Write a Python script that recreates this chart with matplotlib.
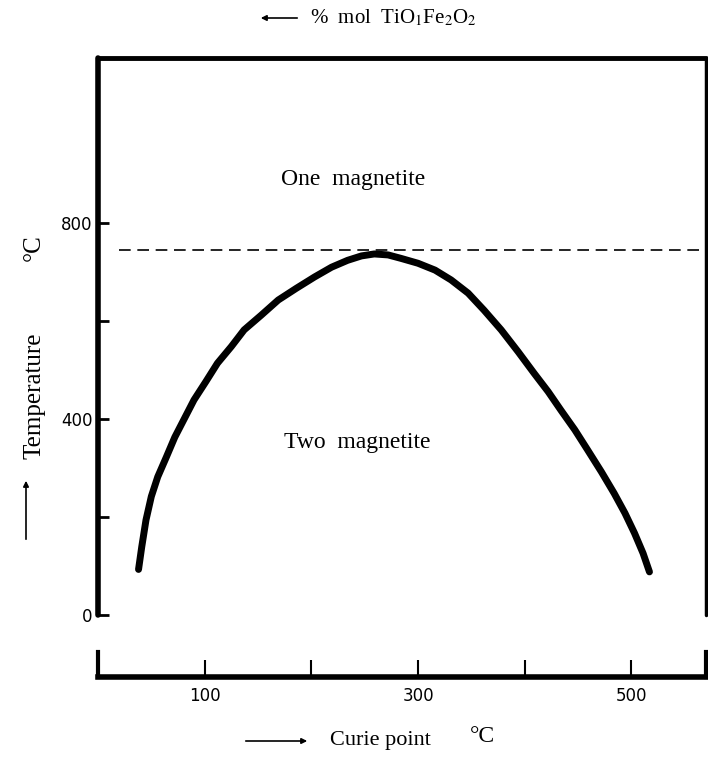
import numpy as np
import matplotlib.pyplot as plt

# curve: Curie point (C) vs temperature (C)
curie = [38, 41, 45, 50, 56, 64, 72, 81, 90, 101, 112, 125, 137, 153, 169, 186, 203, 219, 234, 247,
         259, 272, 284, 300, 316, 331, 347, 362, 378, 394, 409, 422, 434, 447, 459, 472, 484, 494, 503, 511, 517]
temp = [93, 139, 194, 242, 282, 322, 363, 401, 439, 476, 514, 548, 582, 612, 643, 667, 690, 710, 724, 733,
        737, 735, 728, 718, 704, 684, 657, 622, 582, 537, 493, 456, 418, 378, 337, 292, 248, 208, 167, 126, 88]
dash_temp = 745
dash_start = 20
y_major = [0, 400, 800]
y_minor = [200, 600]
x_ticks = [100, 200, 300, 400, 500]
x_labels = ['100', '', '300', '', '500']

plt.rcParams['font.family'] = ['Liberation Serif', 'DejaVu Serif']
plt.rcParams['mathtext.fontset'] = 'stix'
tickfont = ['Liberation Sans Narrow', 'DejaVu Sans']

W, H = 708, 759
fig = plt.figure(figsize=(W / 100, H / 100), dpi=100)


def box(l, t, r, b):
    return [l / W, 1 - b / H, (r - l) / W, (b - t) / H]


def fxy(x, y):
    return (x / W, 1 - y / H)


## main panel
ax = fig.add_axes(box(98, 58, 706, 615))
ax.set_xlim(0, 570)
ax.set_ylim(0, 1137)
ax.spines['bottom'].set_visible(False)
ax.spines['left'].set_linewidth(4)
ax.spines['top'].set_linewidth(3.5)
ax.spines['right'].set_linewidth(2.5)
for s in ax.spines.values():
    s.set_capstyle('round')
ax.set_xticks([])
ax.set_yticks(y_major)
ax.set_yticks(y_minor, minor=True)
ax.set_yticklabels([str(v) for v in y_major], family=tickfont, fontsize=12)
ax.tick_params(axis='y', which='both', direction='in', length=8, width=2, pad=4)

ax.plot(curie, temp, color='black', lw=5, solid_capstyle='round', solid_joinstyle='round')
ax.plot([dash_start, 570], [dash_temp, dash_temp], color='black', lw=1.2, ls=(0, (7, 4)))

ax.text(172, 888, 'One  magnetite', fontsize=17, ha='left', va='center')
ax.text(174, 353, 'Two  magnetite', fontsize=17, ha='left', va='center')

## separate curie point scale
ax2 = fig.add_axes(box(98, 652, 706, 677))
ax2.set_xlim(0, 570)
ax2.set_ylim(0, 1)
ax2.spines['top'].set_visible(False)
ax2.spines['bottom'].set_linewidth(4)
ax2.spines['left'].set_linewidth(3)
ax2.spines['right'].set_linewidth(3)
ax2.set_yticks([])
ax2.set_xticks(x_ticks)
ax2.set_xticklabels(x_labels, family=tickfont, fontsize=12)
ax2.tick_params(axis='x', direction='in', length=12, width=1.5, pad=7)
ax2.patch.set_alpha(0)

## axis captions with arrows
arrow = dict(arrowstyle='-|>', color='black', lw=1.2, mutation_scale=8)
fig.add_artist(plt.matplotlib.patches.FancyArrowPatch(fxy(300, 18), fxy(258, 18), transform=fig.transFigure, **arrow))
fig.text(*fxy(310, 18), '%  mol  TiO$_1$Fe$_2$O$_2$', fontsize=15, ha='left', va='center')

fig.add_artist(plt.matplotlib.patches.FancyArrowPatch(fxy(243, 741), fxy(310, 741), transform=fig.transFigure, **arrow))
fig.text(*fxy(330, 741), 'Curie point', fontsize=16, ha='left', va='center')
fig.text(*fxy(482, 737), '°C', fontsize=17, ha='center', va='center')

fig.add_artist(plt.matplotlib.patches.FancyArrowPatch(fxy(26, 542), fxy(26, 478), transform=fig.transFigure, **arrow))
fig.text(*fxy(34, 396), 'Temperature', fontsize=18, ha='center', va='center', rotation=90)
fig.text(*fxy(34, 248), '°C', fontsize=18, ha='center', va='center', rotation=90)

fig.savefig('out.png', dpi=100)
